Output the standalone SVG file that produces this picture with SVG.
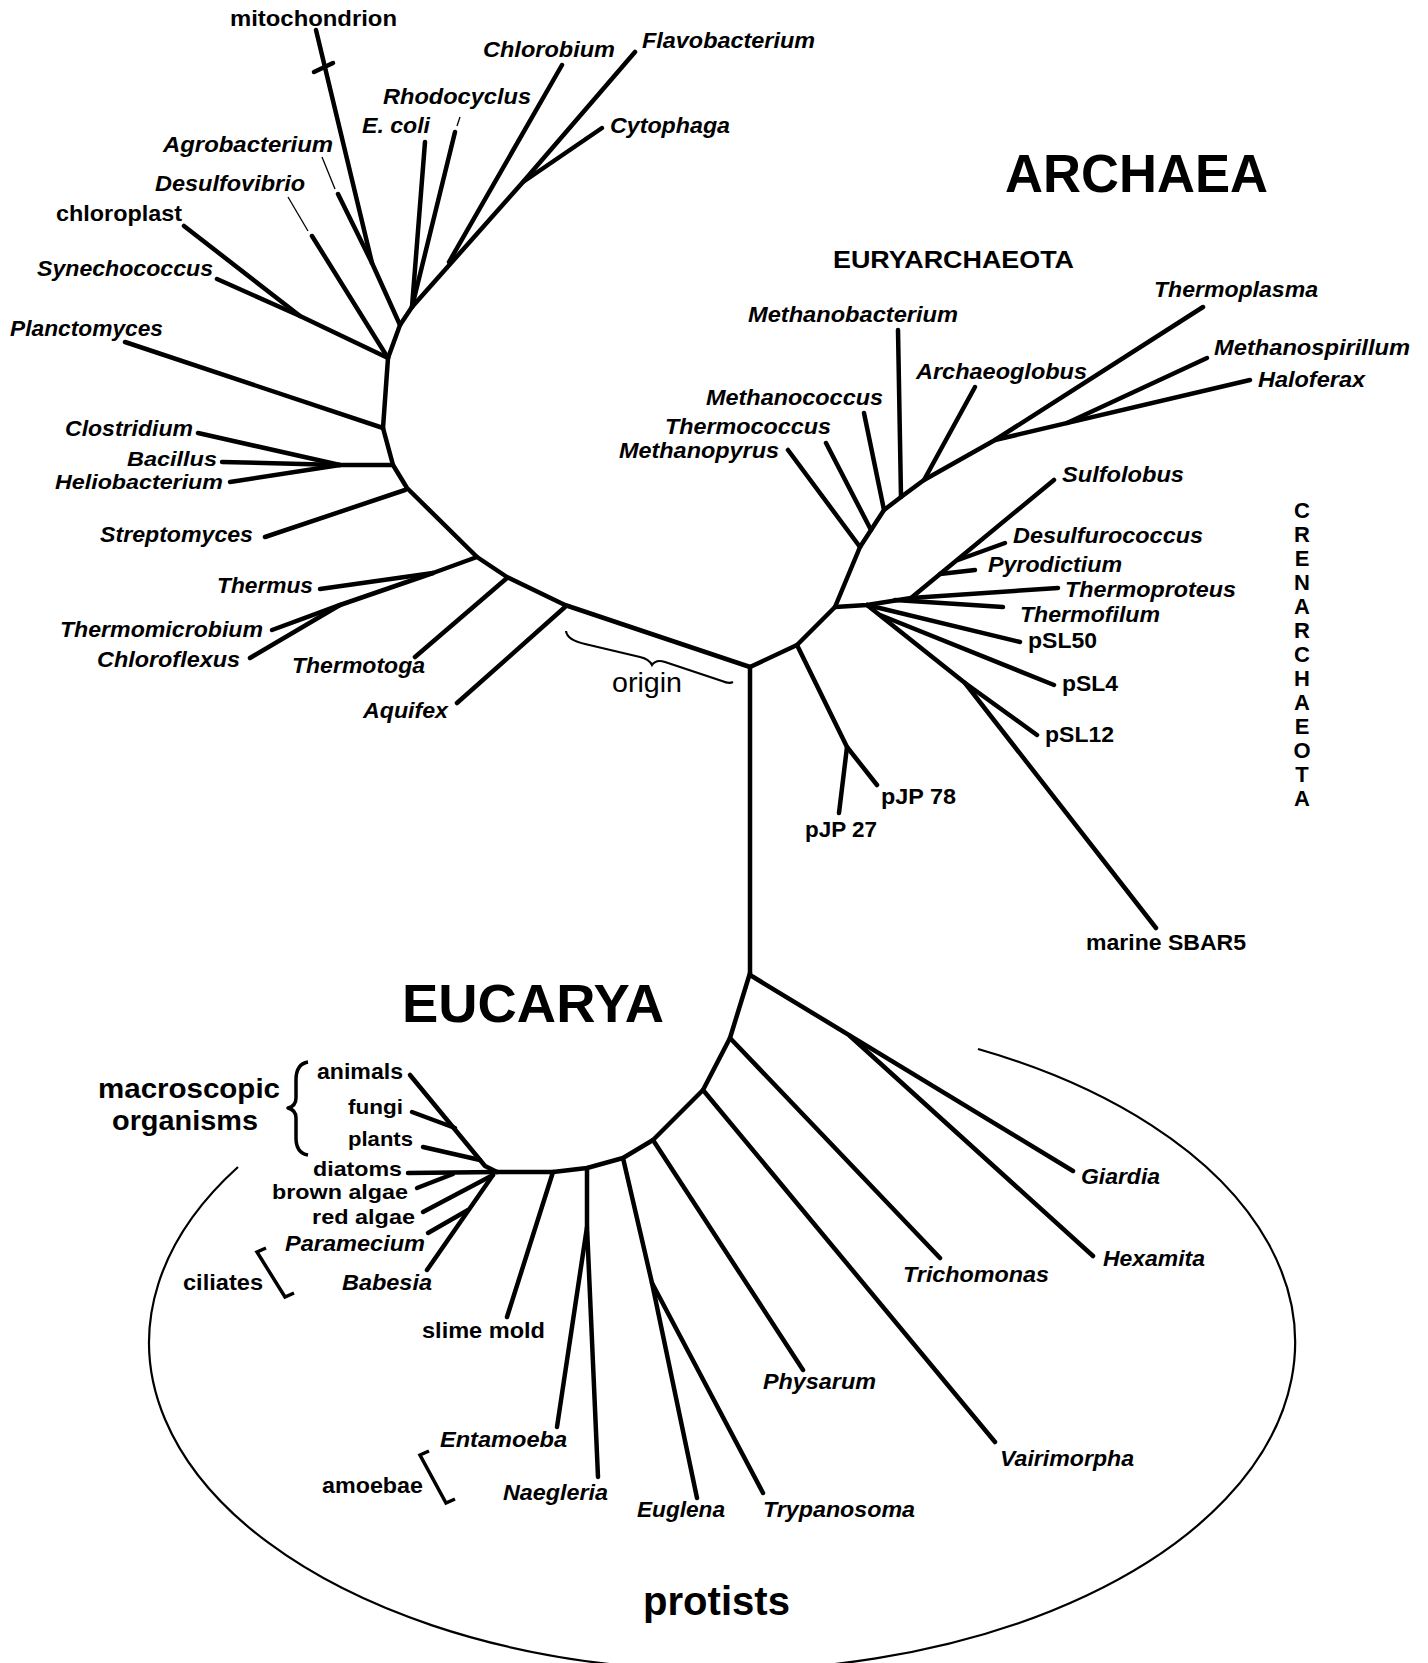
<svg xmlns="http://www.w3.org/2000/svg" width="1428" height="1663" viewBox="0 0 1428 1663">
<style>
text{font-family:"Liberation Sans",Arial,Helvetica,sans-serif;fill:#000}
.i{font-weight:bold;font-style:italic;font-size:22px}
.b{font-weight:bold;font-size:22px}
.big{font-weight:bold;font-size:53px}
.br{fill:none;stroke:#000;stroke-width:4.5;stroke-linecap:round;stroke-linejoin:round}
.th{fill:none;stroke:#000;stroke-width:1.3}
.ln{fill:none;stroke:#000;stroke-width:2.2}
.cr{font-weight:bold;font-size:22px;text-anchor:middle}
</style>
<rect width="1428" height="1663" fill="#fff"/>
<g id="connectors">
<path class="br" d="M412 307 L400 325 L388 358 L385 400 L383 428 L393 465 L407 488 L477 557 L507 577 L565 605 L750 667"/>
<path class="br" d="M316 30 L372 263 L400 325"/>
<path class="br" d="M314 72 L333 63"/>
<path class="th" d="M322 157 L335 189"/>
<path class="br" d="M338 194 L372 263"/>
<path class="th" d="M288 197 L308 231"/>
<path class="br" d="M312 236 L388 358"/>
<path class="br" d="M184 226 L300 316 L388 358"/>
<path class="br" d="M217 279 L300 316"/>
<path class="br" d="M125 342 L383 428"/>
<path class="br" d="M198 433 L340 465 L393 465"/>
<path class="br" d="M222 462 L340 465"/>
<path class="br" d="M230 482 L340 465"/>
<path class="br" d="M265 537 L405 490"/>
<path class="br" d="M477 557 L433 573 L320 589"/>
<path class="br" d="M433 573 L340 605 L272 630"/>
<path class="br" d="M250 658 L340 605"/>
<path class="br" d="M415 657 L507 578"/>
<path class="br" d="M457 703 L565 607"/>
<path class="br" d="M425 142 L412 307"/>
<path class="br" d="M455 132 L412 307"/>
<path class="th" d="M460 117 L457 126"/>
<path class="br" d="M562 65 L449 262"/>
<path class="br" d="M635 52 L523 182 L412 307"/>
<path class="br" d="M602 128 L523 182"/>
<path class="br" d="M750 667 L797 645 L835 607"/>
<path class="br" d="M797 645 L847 747 L877 785"/>
<path class="br" d="M847 747 L839 813"/>
<path class="br" d="M835 607 L860 547 L884 510 L901 497 L924 480 L995 440 L1203 307"/>
<path class="br" d="M788 450 L860 547"/>
<path class="br" d="M826 443 L871 530"/>
<path class="br" d="M864 413 L884 510"/>
<path class="br" d="M898 330 L901 497"/>
<path class="br" d="M975 387 L924 480"/>
<path class="br" d="M995 440 L1250 380"/>
<path class="br" d="M1067 423 L1207 358"/>
<path class="br" d="M835 607 L867 605 L911 598 L1058 588"/>
<path class="br" d="M895 600 L1003 607"/>
<path class="br" d="M911 598 L1054 480"/>
<path class="br" d="M958 560 L1005 543"/>
<path class="br" d="M940 574 L975 570"/>
<path class="br" d="M867 605 L1020 642"/>
<path class="br" d="M880 615 L1054 685"/>
<path class="br" d="M867 605 L965 683 L1156 928"/>
<path class="br" d="M965 683 L1037 735"/>
<path class="br" d="M750 667 L750 973"/>
<path class="br" d="M750 973 L730 1038 L703 1090 L653 1140 L623 1158 L587 1168 L553 1172 L497 1172"/>
<path class="br" d="M750 975 L1073 1171"/>
<path class="br" d="M850 1036 L1093 1256"/>
<path class="br" d="M730 1038 L940 1258"/>
<path class="br" d="M703 1090 L995 1442"/>
<path class="br" d="M653 1140 L803 1370"/>
<path class="br" d="M623 1158 L652 1283 L697 1498"/>
<path class="br" d="M652 1283 L763 1493"/>
<path class="br" d="M587 1168 L587 1227 L557 1427"/>
<path class="br" d="M587 1227 L598 1477"/>
<path class="br" d="M553 1172 L507 1317"/>
<path class="br" d="M410 1075 L485 1166 L497 1172"/>
<path class="br" d="M412 1112 L455 1128"/>
<path class="br" d="M423 1147 L480 1160"/>
<path class="br" d="M408 1173 L497 1172"/>
<path class="br" d="M417 1188 L453 1174"/>
<path class="br" d="M423 1212 L493 1175"/>
<path class="br" d="M427 1270 L493 1175"/>
<path class="br" d="M428 1233 L468 1210"/>
</g>
<g id="annotations">
<path class="ln" d="M566 631 Q567 640 585 644 L640 657 Q649 659 652 665 Q656 659 665 662 L722 681 Q729 684 733 682"/>
<path class="ln" d="M238 1167 A573 328 0 1 0 978 1049"/>
<path class="br" style="stroke-width:3.5;stroke-linecap:butt" d="M308 1062 Q296 1064 296 1080 L296 1098 Q296 1106 288 1108 Q296 1110 296 1118 L296 1138 Q296 1153 308 1155"/>
<path class="br" style="stroke-width:3.5;stroke-linecap:butt;stroke-linejoin:miter" d="M266 1248 L257 1252 L285 1297 L294 1293"/>
<path class="br" style="stroke-width:3.5;stroke-linecap:butt;stroke-linejoin:miter" d="M429 1451 L420 1455 L446 1503 L455 1499"/>
</g>
<g id="titles">
<text class="big" x="1005" y="192" textLength="263" lengthAdjust="spacingAndGlyphs">ARCHAEA</text>
<text class="big" x="402" y="1022" textLength="262" lengthAdjust="spacingAndGlyphs">EUCARYA</text>
<text x="643" y="1615" style="font-weight:bold;font-size:40px" textLength="147" lengthAdjust="spacingAndGlyphs">protists</text>
<text x="833" y="268" style="font-weight:bold;font-size:24px" textLength="241" lengthAdjust="spacingAndGlyphs">EURYARCHAEOTA</text>
<text x="612" y="692" style="font-size:27px" textLength="70" lengthAdjust="spacingAndGlyphs">origin</text>
<g id="crenarchaeota">
<text class="cr" x="1302" y="518">C</text>
<text class="cr" x="1302" y="542">R</text>
<text class="cr" x="1302" y="566">E</text>
<text class="cr" x="1302" y="590">N</text>
<text class="cr" x="1302" y="614">A</text>
<text class="cr" x="1302" y="638">R</text>
<text class="cr" x="1302" y="662">C</text>
<text class="cr" x="1302" y="686">H</text>
<text class="cr" x="1302" y="710">A</text>
<text class="cr" x="1302" y="734">E</text>
<text class="cr" x="1302" y="758">O</text>
<text class="cr" x="1302" y="782">T</text>
<text class="cr" x="1302" y="806">A</text>
</g>
<text class="b" x="98" y="1098" style="font-size:28px" textLength="182" lengthAdjust="spacingAndGlyphs">macroscopic</text>
<text class="b" x="112" y="1130" style="font-size:28px" textLength="146" lengthAdjust="spacingAndGlyphs">organisms</text>
</g>
<g id="n-mitochondrion"><text class="b" x="230" y="26" textLength="167" lengthAdjust="spacingAndGlyphs">mitochondrion</text></g>
<g id="n-chlorobium"><text class="i" x="483" y="57" textLength="132" lengthAdjust="spacingAndGlyphs">Chlorobium</text></g>
<g id="n-flavobacterium"><text class="i" x="642" y="48" textLength="173" lengthAdjust="spacingAndGlyphs">Flavobacterium</text></g>
<g id="n-rhodocyclus"><text class="i" x="383" y="104" textLength="148" lengthAdjust="spacingAndGlyphs">Rhodocyclus</text></g>
<g id="n-ecoli"><text class="i" x="362" y="133" textLength="68" lengthAdjust="spacingAndGlyphs">E. coli</text></g>
<g id="n-cytophaga"><text class="i" x="610" y="133" textLength="120" lengthAdjust="spacingAndGlyphs">Cytophaga</text></g>
<g id="n-agrobacterium"><text class="i" x="163" y="152" textLength="170" lengthAdjust="spacingAndGlyphs">Agrobacterium</text></g>
<g id="n-desulfovibrio"><text class="i" x="155" y="191" textLength="150" lengthAdjust="spacingAndGlyphs">Desulfovibrio</text></g>
<g id="n-chloroplast"><text class="b" x="56" y="221" textLength="126" lengthAdjust="spacingAndGlyphs">chloroplast</text></g>
<g id="n-synechococcus"><text class="i" x="37" y="276" textLength="176" lengthAdjust="spacingAndGlyphs">Synechococcus</text></g>
<g id="n-planctomyces"><text class="i" x="10" y="336" textLength="153" lengthAdjust="spacingAndGlyphs">Planctomyces</text></g>
<g id="n-clostridium"><text class="i" x="65" y="436" textLength="128" lengthAdjust="spacingAndGlyphs">Clostridium</text></g>
<g id="n-bacillus"><text class="i" x="127" y="466" style="font-size:20px" textLength="90" lengthAdjust="spacingAndGlyphs">Bacillus</text></g>
<g id="n-heliobacterium"><text class="i" x="55" y="489" style="font-size:21px" textLength="168" lengthAdjust="spacingAndGlyphs">Heliobacterium</text></g>
<g id="n-streptomyces"><text class="i" x="100" y="542" textLength="153" lengthAdjust="spacingAndGlyphs">Streptomyces</text></g>
<g id="n-thermus"><text class="i" x="217" y="593" textLength="96" lengthAdjust="spacingAndGlyphs">Thermus</text></g>
<g id="n-thermomicrobium"><text class="i" x="60" y="637" textLength="203" lengthAdjust="spacingAndGlyphs">Thermomicrobium</text></g>
<g id="n-chloroflexus"><text class="i" x="97" y="667" textLength="143" lengthAdjust="spacingAndGlyphs">Chloroflexus</text></g>
<g id="n-thermotoga"><text class="i" x="292" y="673" textLength="133" lengthAdjust="spacingAndGlyphs">Thermotoga</text></g>
<g id="n-aquifex"><text class="i" x="363" y="718" textLength="85" lengthAdjust="spacingAndGlyphs">Aquifex</text></g>
<g id="n-thermoplasma"><text class="i" x="1154" y="297" textLength="164" lengthAdjust="spacingAndGlyphs">Thermoplasma</text></g>
<g id="n-methanobacterium"><text class="i" x="748" y="322" textLength="210" lengthAdjust="spacingAndGlyphs">Methanobacterium</text></g>
<g id="n-methanospirillum"><text class="i" x="1214" y="355" textLength="196" lengthAdjust="spacingAndGlyphs">Methanospirillum</text></g>
<g id="n-haloferax"><text class="i" x="1258" y="387" textLength="107" lengthAdjust="spacingAndGlyphs">Haloferax</text></g>
<g id="n-archaeoglobus"><text class="i" x="916" y="379" textLength="171" lengthAdjust="spacingAndGlyphs">Archaeoglobus</text></g>
<g id="n-methanococcus"><text class="i" x="706" y="405" textLength="177" lengthAdjust="spacingAndGlyphs">Methanococcus</text></g>
<g id="n-thermococcus"><text class="i" x="665" y="434" textLength="166" lengthAdjust="spacingAndGlyphs">Thermococcus</text></g>
<g id="n-methanopyrus"><text class="i" x="619" y="458" textLength="160" lengthAdjust="spacingAndGlyphs">Methanopyrus</text></g>
<g id="n-sulfolobus"><text class="i" x="1062" y="482" textLength="122" lengthAdjust="spacingAndGlyphs">Sulfolobus</text></g>
<g id="n-desulfurococcus"><text class="i" x="1013" y="543" textLength="190" lengthAdjust="spacingAndGlyphs">Desulfurococcus</text></g>
<g id="n-pyrodictium"><text class="i" x="988" y="572" textLength="134" lengthAdjust="spacingAndGlyphs">Pyrodictium</text></g>
<g id="n-thermoproteus"><text class="i" x="1065" y="597" textLength="171" lengthAdjust="spacingAndGlyphs">Thermoproteus</text></g>
<g id="n-thermofilum"><text class="i" x="1020" y="622" textLength="140" lengthAdjust="spacingAndGlyphs">Thermofilum</text></g>
<g id="n-psl50"><text class="b" x="1028" y="648" textLength="69" lengthAdjust="spacingAndGlyphs">pSL50</text></g>
<g id="n-psl4"><text class="b" x="1062" y="691" textLength="56" lengthAdjust="spacingAndGlyphs">pSL4</text></g>
<g id="n-psl12"><text class="b" x="1045" y="742" textLength="69" lengthAdjust="spacingAndGlyphs">pSL12</text></g>
<g id="n-pjp78"><text class="b" x="881" y="804" textLength="75" lengthAdjust="spacingAndGlyphs">pJP 78</text></g>
<g id="n-pjp27"><text class="b" x="805" y="837" textLength="72" lengthAdjust="spacingAndGlyphs">pJP 27</text></g>
<g id="n-sbar5"><text class="b" x="1086" y="950" textLength="160" lengthAdjust="spacingAndGlyphs">marine SBAR5</text></g>
<g id="n-animals"><text class="b" x="317" y="1079" textLength="86" lengthAdjust="spacingAndGlyphs">animals</text></g>
<g id="n-fungi"><text class="b" x="348" y="1114" style="font-size:21px" textLength="55" lengthAdjust="spacingAndGlyphs">fungi</text></g>
<g id="n-plants"><text class="b" x="348" y="1146" style="font-size:21px" textLength="65" lengthAdjust="spacingAndGlyphs">plants</text></g>
<g id="n-diatoms"><text class="b" x="313" y="1176" style="font-size:21px" textLength="89" lengthAdjust="spacingAndGlyphs">diatoms</text></g>
<g id="n-brownalgae"><text class="b" x="272" y="1199" style="font-size:21px" textLength="136" lengthAdjust="spacingAndGlyphs">brown algae</text></g>
<g id="n-redalgae"><text class="b" x="312" y="1224" style="font-size:21px" textLength="103" lengthAdjust="spacingAndGlyphs">red algae</text></g>
<g id="n-paramecium"><text class="i" x="285" y="1251" textLength="140" lengthAdjust="spacingAndGlyphs">Paramecium</text></g>
<g id="n-ciliates"><text class="b" x="183" y="1290" textLength="80" lengthAdjust="spacingAndGlyphs">ciliates</text></g>
<g id="n-babesia"><text class="i" x="342" y="1290" textLength="90" lengthAdjust="spacingAndGlyphs">Babesia</text></g>
<g id="n-slimemold"><text class="b" x="422" y="1338" textLength="123" lengthAdjust="spacingAndGlyphs">slime mold</text></g>
<g id="n-entamoeba"><text class="i" x="440" y="1447" textLength="127" lengthAdjust="spacingAndGlyphs">Entamoeba</text></g>
<g id="n-amoebae"><text class="b" x="322" y="1493" textLength="101" lengthAdjust="spacingAndGlyphs">amoebae</text></g>
<g id="n-naegleria"><text class="i" x="503" y="1500" textLength="105" lengthAdjust="spacingAndGlyphs">Naegleria</text></g>
<g id="n-euglena"><text class="i" x="637" y="1517" textLength="88" lengthAdjust="spacingAndGlyphs">Euglena</text></g>
<g id="n-trypanosoma"><text class="i" x="763" y="1517" textLength="152" lengthAdjust="spacingAndGlyphs">Trypanosoma</text></g>
<g id="n-physarum"><text class="i" x="763" y="1389" textLength="113" lengthAdjust="spacingAndGlyphs">Physarum</text></g>
<g id="n-vairimorpha"><text class="i" x="1000" y="1466" textLength="134" lengthAdjust="spacingAndGlyphs">Vairimorpha</text></g>
<g id="n-trichomonas"><text class="i" x="903" y="1282" textLength="146" lengthAdjust="spacingAndGlyphs">Trichomonas</text></g>
<g id="n-giardia"><text class="i" x="1081" y="1184" textLength="79" lengthAdjust="spacingAndGlyphs">Giardia</text></g>
<g id="n-hexamita"><text class="i" x="1103" y="1266" textLength="102" lengthAdjust="spacingAndGlyphs">Hexamita</text></g>
</svg>
